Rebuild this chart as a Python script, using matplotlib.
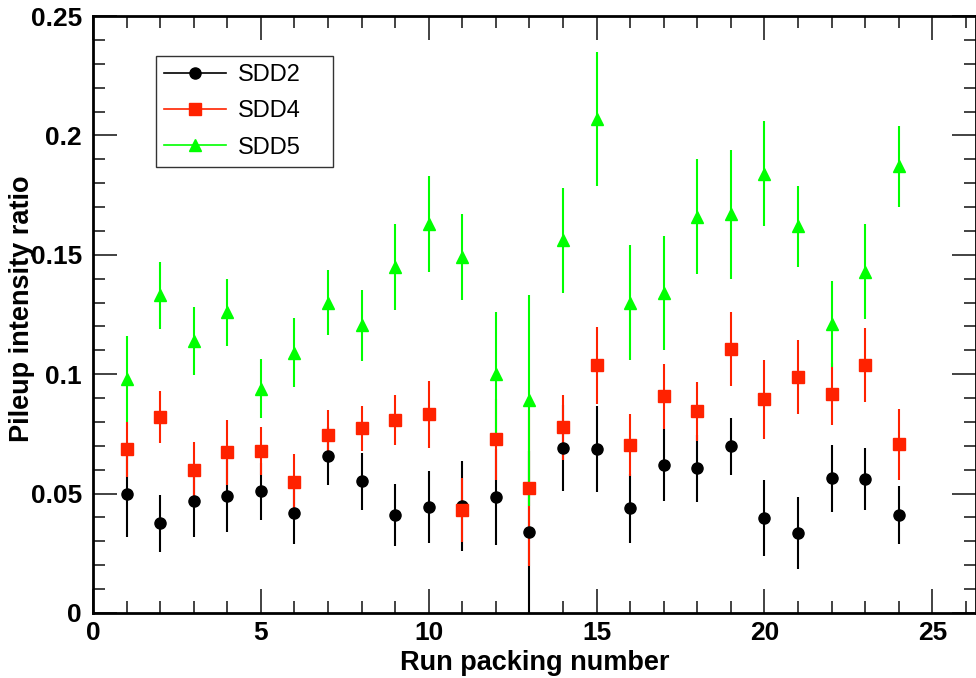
import matplotlib
matplotlib.use("Agg")
import matplotlib.pyplot as plt
from matplotlib.lines import Line2D
from matplotlib.ticker import MultipleLocator
import numpy as np

################################################################################

runs = np.arange(1, 25)

sdd2 = [0.050, 0.0375, 0.047, 0.049, 0.051, 0.042, 0.0657, 0.0552, 0.041, 0.0444, 0.0448, 0.0485,
        0.0338, 0.069, 0.0685, 0.0439, 0.0619, 0.0606, 0.0698, 0.0397, 0.0334, 0.0564, 0.056, 0.041]
sdd2_err = [0.018, 0.012, 0.015, 0.015, 0.012, 0.013, 0.012, 0.012, 0.013, 0.015, 0.019, 0.020,
            0.034, 0.018, 0.018, 0.0145, 0.015, 0.014, 0.012, 0.016, 0.015, 0.014, 0.013, 0.012]

sdd4 = [0.0686, 0.082, 0.0598, 0.0673, 0.0677, 0.055, 0.0744, 0.0773, 0.0807, 0.0832, 0.0431, 0.0727,
        0.0523, 0.0777, 0.1037, 0.0702, 0.0907, 0.0844, 0.1104, 0.0895, 0.099, 0.0916, 0.104, 0.0706]
sdd4_err = [0.0115, 0.011, 0.012, 0.0135, 0.010, 0.0117, 0.0105, 0.0095, 0.0105, 0.014, 0.0135, 0.017,
            0.0325, 0.0135, 0.016, 0.013, 0.0135, 0.0125, 0.0155, 0.0165, 0.0155, 0.013, 0.0155, 0.015]

sdd5 = [0.0978, 0.133, 0.114, 0.126, 0.094, 0.109, 0.130, 0.1204, 0.1447, 0.163, 0.149, 0.100,
        0.089, 0.156, 0.207, 0.130, 0.134, 0.166, 0.167, 0.184, 0.162, 0.121, 0.143, 0.187]
sdd5_err = [0.018, 0.014, 0.0143, 0.014, 0.0125, 0.0145, 0.0135, 0.015, 0.018, 0.020, 0.018, 0.026,
            0.044, 0.022, 0.028, 0.024, 0.024, 0.024, 0.027, 0.022, 0.017, 0.018, 0.020, 0.017]

labels = ['SDD2', 'SDD4', 'SDD5']
colors = ['black', '#ff2200', '#00ff00']
markers = ['o', 's', '^']

################################################################################

plt.rcParams['font.family'] = ['Liberation Sans', 'DejaVu Sans']

fig = plt.figure(figsize=(9.76, 6.78), dpi=100)
ax = fig.add_axes([93 / 976, 1 - 613 / 678, 883 / 976, 597 / 678])

series = [(sdd2, sdd2_err), (sdd4, sdd4_err), (sdd5, sdd5_err)]
for (y, e), cl, mk in zip(series, colors, markers):
    ax.errorbar(runs, y, yerr=e, fmt=mk, color=cl, ms=8, elinewidth=1.5,
                capsize=0, mec=cl, mfc=cl, zorder=3)

ax.set_xlim(0, 26.3)
ax.set_ylim(0, 0.25)

ax.xaxis.set_major_locator(MultipleLocator(5))
ax.xaxis.set_minor_locator(MultipleLocator(1))
ax.yaxis.set_minor_locator(MultipleLocator(0.01))
ax.set_yticks([0, 0.05, 0.1, 0.15, 0.2, 0.25])
ax.set_yticklabels(['0', '0.05', '0.1', '0.15', '0.2', '0.25'])

ax.tick_params(which='both', direction='in', top=True, right=True,
               color='#222222', width=1.2)
ax.tick_params(which='major', length=17, labelsize=19)
ax.tick_params(axis='y', which='major', pad=8)
ax.tick_params(axis='x', which='major', pad=6)
ax.tick_params(which='minor', length=8.5)
for lb in ax.get_xticklabels() + ax.get_yticklabels():
    lb.set_fontweight('bold')
for s in ax.spines.values():
    s.set_linewidth(2)
    s.set_clip_on(False)

ax.set_xlabel("Run packing number", fontsize=19.5, fontweight='bold', labelpad=3)
ax.set_ylabel("Pileup intensity ratio", fontsize=19.5, fontweight='bold')
ax.yaxis.set_label_coords(-0.066, 0.51)

handles = [Line2D([], [], color=cl, marker=mk, ms=8, lw=1.2) for cl, mk in zip(colors, markers)]
leg = ax.legend(handles, labels, loc='upper left', bbox_to_anchor=(0.0713, 0.747, 0.2005, 0.186),
                mode='expand', borderaxespad=0, fontsize=17, frameon=True, fancybox=False,
                handlelength=2.6, handletextpad=0.5, labelspacing=0.6, borderpad=0.35)
leg.get_frame().set_edgecolor('black')
leg.get_frame().set_linewidth(1.0)

fig.savefig("out.png", dpi=100)
